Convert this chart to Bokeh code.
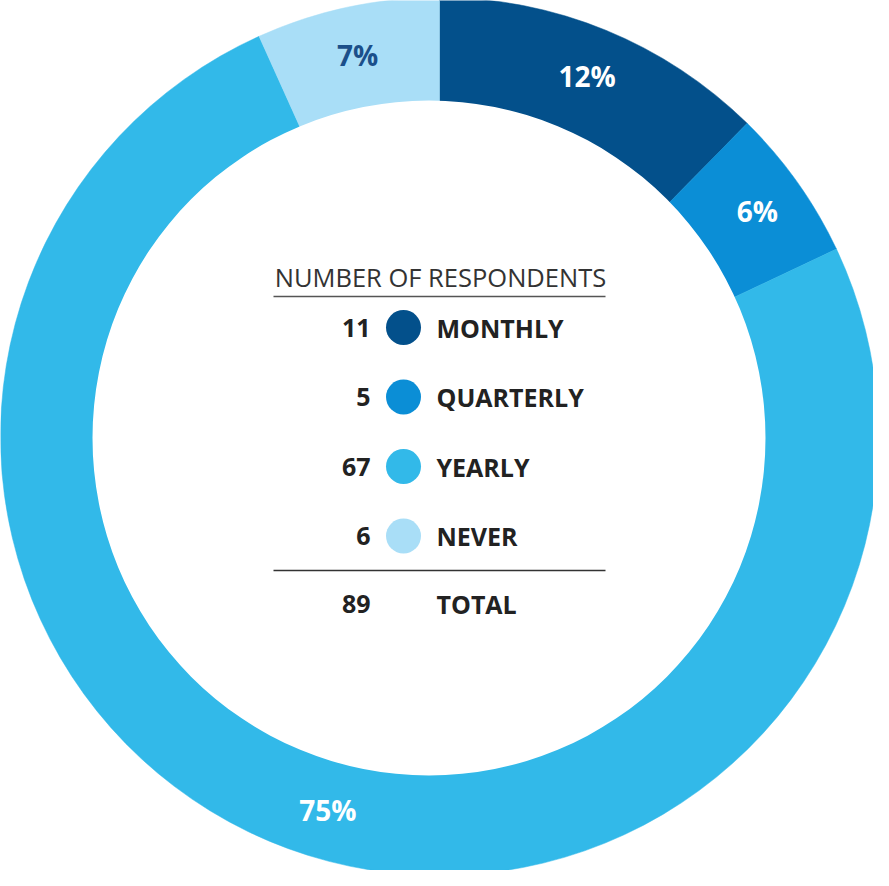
import math
from bokeh.plotting import figure
from bokeh.models import Range1d, ColumnDataSource
from bokeh.core.properties import value
from bokeh.embed import file_html
from bokeh.resources import INLINE

# ---- data ----
categories = ["MONTHLY", "QUARTERLY", "YEARLY", "NEVER"]
counts = [11, 5, 67, 6]
colors = ["#03508B", "#0B8ED6", "#32B9E9", "#A9DEF7"]
pct_text_colors = ["#FFFFFF", "#FFFFFF", "#FFFFFF", "#1B4F8A"]
legend_title = "NUMBER OF RESPONDENTS"
total_label = "TOTAL"

total = sum(counts)
FONT = "Open Sans"

W, H = 873, 870
p = figure(width=W, height=H, output_backend="svg", toolbar_location=None,
           x_range=Range1d(-439, 434), y_range=Range1d(-434, 436),
           min_border=0)
p.axis.visible = False
p.grid.visible = False
p.outline_line_color = None
p.background_fill_color = "white"
p.border_fill_color = "white"

R_OUT = 439
# hole of the ring (slightly off-centre in the original artwork)
HOLE_X, HOLE_Y, HOLE_W, HOLE_H = -10.5, -1.5, 673, 675

def X(page_x):
    return page_x - 447

def Y(page_y):
    return 444 - page_y

# wedges, starting at 12 o'clock going clockwise
starts, ends, mids = [], [], []
cum = 0
for c in counts:
    a0 = math.pi / 2 - 2 * math.pi * cum / total
    cum += c
    a1 = math.pi / 2 - 2 * math.pi * cum / total
    starts.append(a0)
    ends.append(a1)
    mids.append((a0 + a1) / 2)

src = ColumnDataSource(dict(start=starts, end=ends, color=colors))
p.wedge(x=0, y=0, radius=R_OUT,
        start_angle="start", end_angle="end", direction="clock",
        fill_color="color", line_color="color", line_width=0.5, source=src)
p.ellipse(x=HOLE_X, y=HOLE_Y, width=HOLE_W, height=HOLE_H,
          fill_color="white", line_color=None)

# percentage labels
label_angle_nudge = [0.0, 0.0, 3.6, 0.0]  # degrees
r_lab = 390
px = [r_lab * math.cos(m + math.radians(n)) for m, n in zip(mids, label_angle_nudge)]
py = [r_lab * math.sin(m + math.radians(n)) for m, n in zip(mids, label_angle_nudge)]
ptxt = [f"{round(c / total * 100)}%" for c in counts]
p.text(x=px, y=py, text=ptxt, text_color=pct_text_colors,
       text_align="center", text_baseline="middle",
       text_font=value(FONT), text_font_style="bold", text_font_size="28px")

# legend block (centre)
p.text(x=[X(448)], y=[Y(284)], text=[legend_title], text_color="#333333",
       text_align="center", text_baseline="middle",
       text_font=value(FONT), text_font_size="25.5px")
p.line(x=[X(281), X(613)], y=[Y(304), Y(304)], line_color="#555555", line_width=1.5)

row_y = [Y(335 + 69.5 * i) for i in range(len(categories))]
p.text(x=[X(378)] * len(counts), y=row_y, text=[str(c) for c in counts],
       text_color="#222222", text_align="right", text_baseline="middle",
       text_font=value(FONT), text_font_style="bold", text_font_size="25px")
p.scatter(x=[X(411)] * len(counts), y=row_y, size=35, marker="circle",
          fill_color=colors, line_color=None)
p.text(x=[X(444)] * len(categories), y=row_y, text=categories,
       text_color="#222222", text_align="left", text_baseline="middle",
       text_font=value(FONT), text_font_style="bold", text_font_size="25px")

p.line(x=[X(281), X(613)], y=[Y(578), Y(578)], line_color="#333333", line_width=1.5)
p.text(x=[X(378)], y=[Y(611)], text=[str(total)], text_color="#222222",
       text_align="right", text_baseline="middle",
       text_font=value(FONT), text_font_style="bold", text_font_size="25px")
p.text(x=[X(444)], y=[Y(611)], text=[total_label], text_color="#222222",
       text_align="left", text_baseline="middle",
       text_font=value(FONT), text_font_style="bold", text_font_size="25px")

open("out.html", "w").write(file_html(p, INLINE))
